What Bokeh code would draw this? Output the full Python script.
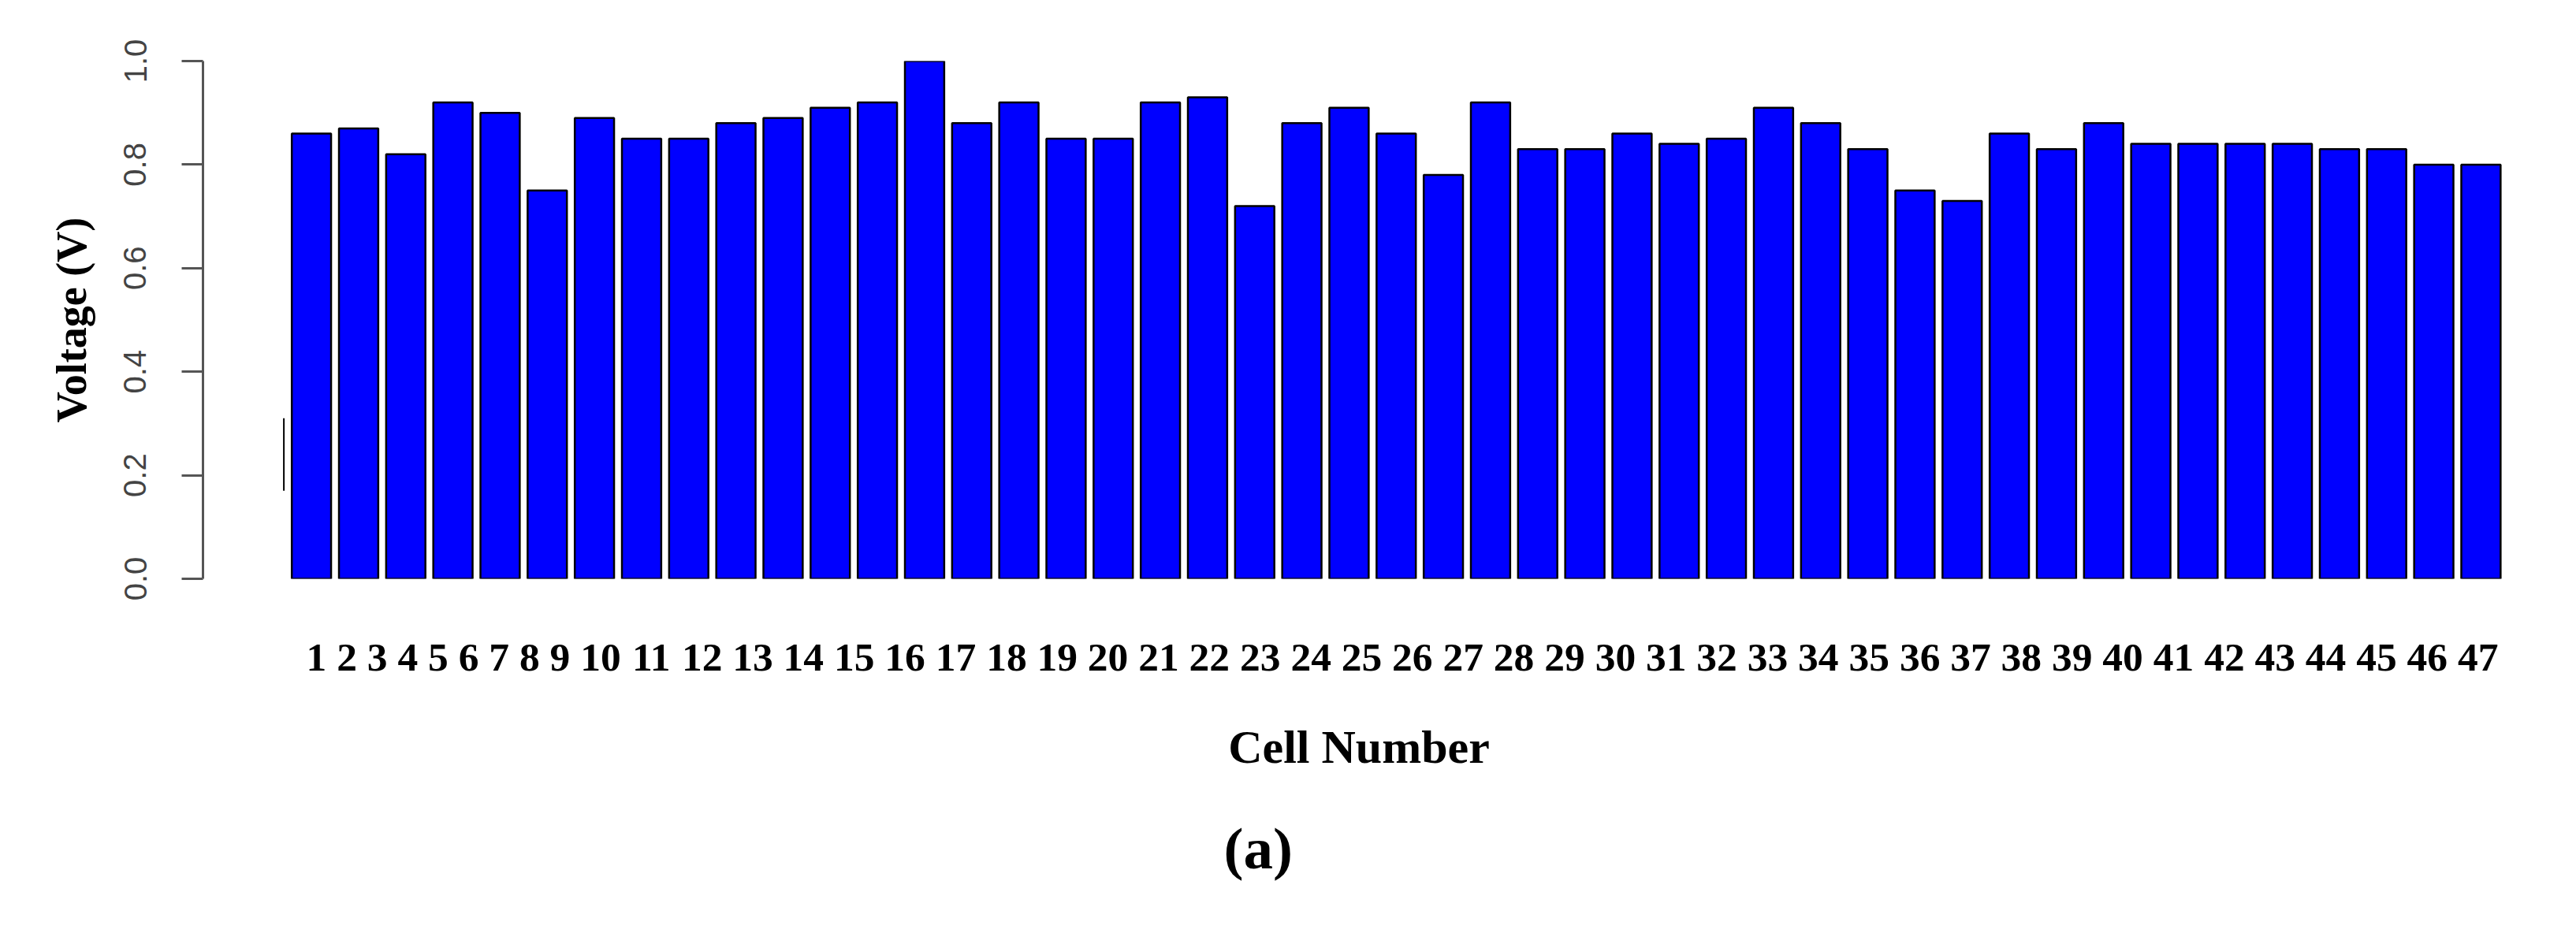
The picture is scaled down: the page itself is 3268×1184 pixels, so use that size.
from bokeh.plotting import figure
from bokeh.models import Range1d, FixedTicker, PrintfTickFormatter, ColumnDataSource, Title
from bokeh.embed import file_html
from bokeh.resources import INLINE

# ---- data ----
cells = list(range(1, 48))
cell_labels = [str(c) for c in cells]
voltage = [0.86, 0.87, 0.82, 0.92, 0.90, 0.75, 0.89, 0.85, 0.85, 0.88,
           0.89, 0.91, 0.92, 1.00, 0.88, 0.92, 0.85, 0.85, 0.92, 0.93,
           0.72, 0.88, 0.91, 0.86, 0.78, 0.92, 0.83, 0.83, 0.86, 0.84,
           0.85, 0.91, 0.88, 0.83, 0.75, 0.73, 0.86, 0.83, 0.88, 0.84,
           0.84, 0.84, 0.84, 0.83, 0.83, 0.80, 0.80]
y_ticks = [0.0, 0.2, 0.4, 0.6, 0.8, 1.0]
# stray short vertical stroke left of the first bar
stray_x = [0.415]
stray_y0 = [0.17]
stray_y1 = [0.31]

# ---- layout ----
W, H = 3252, 1168
FRAME_L, FRAME_R, FRAME_T, FRAME_B = 257, 3190, 77, 734
X0, X1 = -1.30, 47.72
LABEL_PX = 51.5            # font size of the cell-number row
ROW_START_PX = 388         # left edge of the "1 2 3 ... 47" row

# cell numbers are set as one flowing row of text (as in the original),
# so each label's centre follows from the widths of the labels before it
px_per_unit = (FRAME_R - FRAME_L) / (X1 - X0)
digit_w, space_w = 0.5 * LABEL_PX, 0.25 * LABEL_PX
pos = ROW_START_PX
label_pos = []
for lab in cell_labels:
    w = len(lab) * digit_w
    label_pos.append(round(X0 + (pos + w / 2 - FRAME_L) / px_per_unit, 4))
    pos += w + space_w

p = figure(width=W, height=H, output_backend="svg", toolbar_location=None,
           x_range=Range1d(X0, X1), y_range=Range1d(0, 1),
           min_border_left=FRAME_L, min_border_right=W - FRAME_R,
           min_border_top=FRAME_T, min_border_bottom=H - FRAME_B)
p.outline_line_color = None
p.grid.visible = False
p.background_fill_color = "white"
p.border_fill_color = "white"

src = ColumnDataSource(dict(x=cells, top=voltage))
p.vbar(x="x", top="top", bottom=0, width=0.833, source=src,
       fill_color="#0000FF", line_color="black", line_width=2.5)

p.segment(x0=stray_x, y0=stray_y0, x1=stray_x, y1=stray_y1,
          line_color="black", line_width=2)

# ---- y axis ----
ya = p.yaxis[0]
ya.ticker = FixedTicker(ticks=y_ticks)
ya.formatter = PrintfTickFormatter(format="%.1f")
ya.minor_tick_line_color = None
ya.major_tick_in = 0
ya.major_tick_out = 27
ya.major_tick_line_width = 3
ya.major_tick_line_color = "#555555"
ya.axis_line_width = 3
ya.axis_line_color = "#555555"
ya.major_label_orientation = "vertical"
ya.major_label_text_font = "Liberation Sans"
ya.major_label_text_font_size = "40px"
ya.major_label_text_color = "#444444"
ya.major_label_standoff = 45
ya.axis_label = "Voltage (V)"
ya.axis_label_text_font = "Liberation Serif"
ya.axis_label_text_font_style = "bold"
ya.axis_label_text_font_size = "54px"
ya.axis_label_text_color = "black"
ya.axis_label_standoff = 34

# ---- x axis: cell numbers only, no line or ticks ----
xa = p.xaxis[0]
xa.ticker = FixedTicker(ticks=label_pos)
xa.major_label_overrides = {pp: lab for pp, lab in zip(label_pos, cell_labels)}
xa.axis_line_color = None
xa.major_tick_line_color = None
xa.minor_tick_line_color = None
xa.major_tick_in = 0
xa.major_tick_out = 0
xa.major_label_standoff = 83
xa.major_label_text_font = "Liberation Serif"
xa.major_label_text_font_style = "bold"
xa.major_label_text_font_size = f"{LABEL_PX}px"
xa.major_label_text_color = "black"
xa.axis_label = "Cell Number"
xa.axis_label_text_font = "Liberation Serif"
xa.axis_label_text_font_style = "bold"
xa.axis_label_text_font_size = "60px"
xa.axis_label_text_color = "black"
xa.axis_label_standoff = 61

p.add_layout(Title(text="(a)", align="left", offset=1552 - FRAME_L,
                   text_font="Liberation Serif", text_font_style="bold",
                   text_font_size="75px", text_color="black", standoff=99),
             "below")

open("out.html", "w").write(file_html(p, INLINE))
